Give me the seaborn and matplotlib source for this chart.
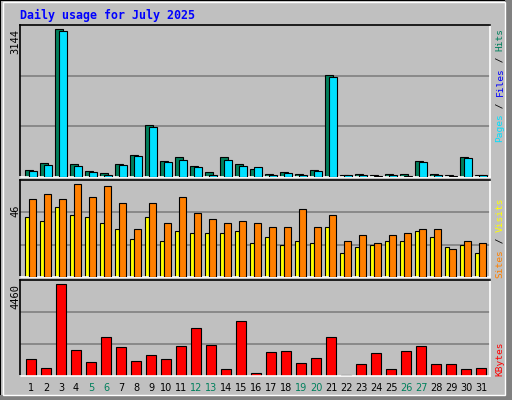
import numpy as np
import pandas as pd
import matplotlib
matplotlib.use("Agg")
import matplotlib.pyplot as plt
import seaborn as sns
from matplotlib.patches import Rectangle

days = np.arange(1, 32)
hits = [156, 306, 3144, 285, 135, 92, 285, 477, 1117, 349, 420, 242, 114, 420, 285,
        178, 71, 114, 71, 156, 2162, 50, 71, 50, 71, 71, 349, 71, 50, 434, 50]
files = [135, 263, 3101, 242, 114, 50, 263, 455, 1074, 327, 370, 220, 50, 370, 242,
         220, 50, 92, 50, 135, 2120, 50, 50, 28, 50, 28, 327, 50, 28, 412, 50]
visits = [39, 41, 39, 46, 40, 45, 37, 24, 37, 27, 40, 32, 29, 27, 28,
          27, 25, 25, 34, 25, 31, 18, 21, 17, 21, 22, 24, 24, 14, 18, 17]
sites = [30, 28, 35, 31, 30, 27, 24, 19, 30, 18, 23, 22, 22, 22, 23,
         17, 20, 16, 18, 17, 25, 12, 15, 16, 18, 18, 23, 20, 15, 16, 12]
kbytes = [833, 392, 4460, 1274, 686, 1911, 1421, 735, 1029, 833, 1470, 2353, 1519, 343, 2696,
          147, 1176, 1225, 637, 882, 1911, 33, 588, 1127, 343, 1225, 1470, 588, 588, 343, 392]
weekends = [5, 6, 12, 13, 19, 20, 26, 27]
title = "Daily usage for July 2025"

sns.set_theme(style="white")
plt.rcParams['font.family'] = ['DejaVu Sans']
W, H = 512, 400
fig = plt.figure(figsize=(W / 100, H / 100), dpi=100)
fig.patch.set_facecolor("#C0C0C0")

# bevel frame
fig.patches.append(Rectangle((0, 0), 1, 1, transform=fig.transFigure, fill=False, ec="black", lw=1.5))
fig.patches.append(Rectangle((505 / W, 0), 7 / W, 1, transform=fig.transFigure, fc="#808080", ec="none"))
fig.patches.append(Rectangle((0, 0), 1, 5 / H, transform=fig.transFigure, fc="#808080", ec="none"))
fig.patches.append(Rectangle((3 / W, 5 / H), 502 / W, 393 / H, transform=fig.transFigure,
                             fill=False, ec="white", lw=1))

SP = 15.0  # px per day
X0 = 1 - 11 / SP


def ax_px(x0, y0, x1, y1):
    return fig.add_axes([x0 / W, 1 - y1 / H, (x1 - x0) / W, (y1 - y0) / H])


def style(ax, ymax):
    ax.set_facecolor("#C0C0C0")
    ax.set_xlim(X0, X0 + 470 / SP)
    ax.set_ylim(0, ymax)
    ax.set_xticks([])
    ax.set_yticks([])
    ax.set_xlabel("")
    ax.set_ylabel("")
    for y in (ymax / 3, 2 * ymax / 3):
        ax.axhline(y, color="#808080", lw=1.2, zorder=0)
    for s in ax.spines.values():
        s.set_color("black")
        s.set_linewidth(1.2)
    ax.spines["bottom"].set_color("white")
    ax.spines["right"].set_color("white")


ax1 = ax_px(20, 25, 490, 177)
sns.barplot(x=days - 0.145, y=hits, native_scale=True, width=0.5, color="#00805C",
            saturation=1, edgecolor="black", linewidth=0.8, ax=ax1, zorder=2)
sns.barplot(x=days + 0.13, y=files, native_scale=True, width=0.49, color="#00E0FF",
            saturation=1, edgecolor="black", linewidth=0.8, ax=ax1, zorder=3)
style(ax1, 3144 * 455 / 442)

ax2 = ax_px(20, 180, 490, 277)
sns.barplot(x=days - 0.245, y=sites, native_scale=True, width=0.27, color="#FFFF00",
            saturation=1, edgecolor="black", linewidth=0.8, ax=ax2, zorder=2)
sns.barplot(x=days + 0.08, y=visits, native_scale=True, width=0.46, color="#FF8000",
            saturation=1, edgecolor="black", linewidth=0.8, ax=ax2, zorder=3)
style(ax2, 48.2)

ax3 = ax_px(20, 280, 490, 376)
sns.barplot(x=days, y=kbytes, native_scale=True, width=0.66, color="#FF0000",
            saturation=1, edgecolor="black", linewidth=0.8, ax=ax3, zorder=2)
style(ax3, 4670)

for d in days:
    ax3.text(d, -0.12, str(d), transform=ax3.get_xaxis_transform(), ha="center", va="center",
             fontsize=7, color="#00805C" if d in weekends else "black")

fig.text(20 / W, 1 - 15 / H, title, color="#0000FF", fontsize=8.4, fontweight="bold",
         family="DejaVu Sans Mono", va="center", ha="left")

for label, ytop in (("3144", 29), ("46", 205), ("4460", 284)):
    fig.text(15 / W, 1 - ytop / H, label, rotation=90, fontsize=7.5, va="top", ha="center",
             family="DejaVu Sans Mono", color="black")

CH = 5.7  # px per char


def right_label(parts, ytop):
    total = sum(len(t) for t, _ in parts)
    y = ytop + total * CH  # bottom of label
    for t, c in parts:
        fig.text(500 / W, 1 - y / H, t, rotation=90, color=c, fontsize=6.8,
                 family="DejaVu Sans Mono", va="bottom", ha="center")
        y -= len(t) * CH


right_label([("Pages", "#00E0FF"), (" / ", "black"), ("Files", "#0000FF"),
             (" / ", "black"), ("Hits", "#00805C")], 28)
right_label([("Sites", "#FF8000"), (" / ", "black"), ("Visits", "#FFFF00")], 198)
right_label([("KBytes", "#FF0000")], 342)

fig.savefig("out.png", dpi=100, facecolor=fig.get_facecolor())
